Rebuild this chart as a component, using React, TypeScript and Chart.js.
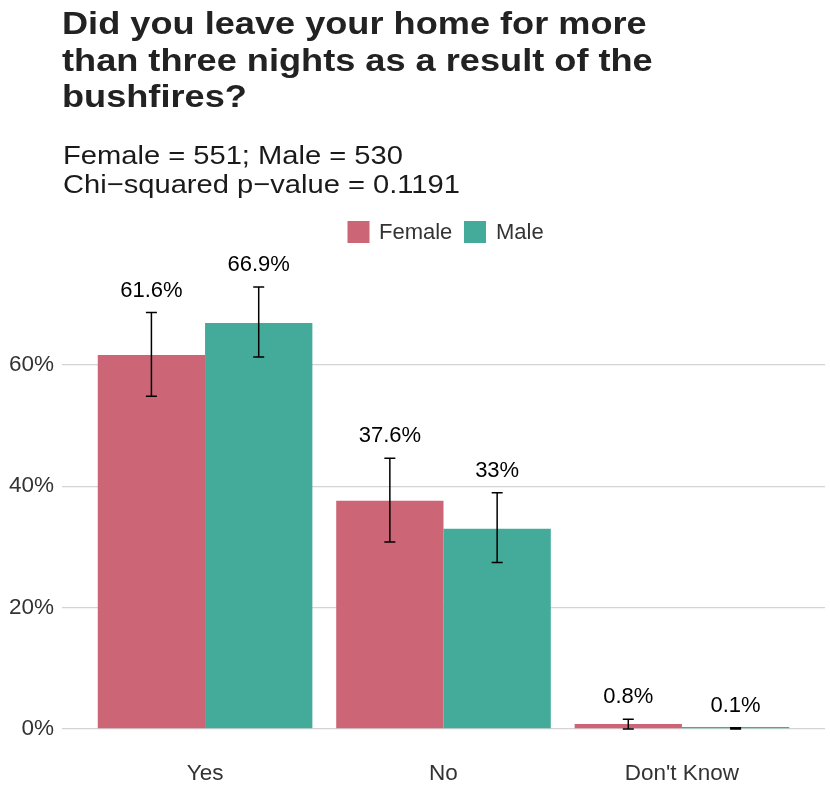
import React, { useEffect, useRef } from 'react';
import { Chart, registerables } from 'chart.js';

Chart.register(...registerables);

const categories = ['Yes', 'No', "Don't Know"];
const seriesNames = ['Female', 'Male'];
const seriesColors = ['#CC6677', '#44AA99'];
const femaleValues = [61.6, 37.6, 0.8];
const maleValues = [66.9, 33.0, 0.1];
const femaleLow = [54.8, 30.8, 0.0];
const femaleHigh = [68.6, 44.6, 1.6];
const maleLow = [61.3, 27.4, 0.0];
const maleHigh = [72.8, 38.9, 0.2];
const yTicks = [0, 20, 40, 60];
const titleLines = [
  'Did you leave your home for more',
  'than three nights as a result of the',
  'bushfires?',
];
const subtitleLines = ['Female = 551; Male = 530', 'Chi\u2212squared p\u2212value = 0.1191'];

const FONT = '"Liberation Sans", Arial, Helvetica, sans-serif';

const fmt = (v: number) => `${+v.toFixed(1)}%`;

const decorPlugin = {
  id: 'decor',
  afterDraw(chart: any) {
    const ctx = chart.ctx as CanvasRenderingContext2D;
    ctx.save();
    // Title
    ctx.fillStyle = '#222222';
    ctx.textAlign = 'left';
    ctx.textBaseline = 'alphabetic';
    ctx.font = `bold 32px ${FONT}`;
    const titleBase = [34, 70.5, 107];
    titleLines.forEach((t, i) => {
      ctx.save();
      ctx.translate(62, titleBase[i]);
      ctx.scale(1.13, 1);
      ctx.fillText(t, 0, 0);
      ctx.restore();
    });
    // Subtitle
    ctx.fillStyle = '#1a1a1a';
    ctx.font = `26px ${FONT}`;
    const subBase = [163.5, 193];
    subtitleLines.forEach((t, i) => {
      ctx.save();
      ctx.translate(63, subBase[i]);
      ctx.scale(1.12, 1);
      ctx.fillText(t, 0, 0);
      ctx.restore();
    });
    // Legend
    ctx.font = `22px ${FONT}`;
    ctx.textBaseline = 'middle';
    const boxX = [347.5, 464];
    const textX = [379, 496];
    seriesNames.forEach((n, i) => {
      ctx.fillStyle = seriesColors[i];
      ctx.fillRect(boxX[i], 221, 22, 22);
      ctx.fillStyle = '#333333';
      ctx.fillText(n, textX[i], 232.5);
    });
    ctx.restore();
  },
  afterDatasetsDraw(chart: any) {
    const ctx = chart.ctx as CanvasRenderingContext2D;
    const yScale = chart.scales.y;
    ctx.save();
    chart.data.datasets.forEach((ds: any, di: number) => {
      const meta = chart.getDatasetMeta(di);
      meta.data.forEach((el: any, i: number) => {
        const x = el.x;
        const yl = yScale.getPixelForValue(ds.errLow[i]);
        const yh = yScale.getPixelForValue(ds.errHigh[i]);
        ctx.strokeStyle = '#000000';
        ctx.lineWidth = 1.5;
        ctx.beginPath();
        ctx.moveTo(x, yl);
        ctx.lineTo(x, yh);
        ctx.moveTo(x - 5.5, yl);
        ctx.lineTo(x + 5.5, yl);
        ctx.moveTo(x - 5.5, yh);
        ctx.lineTo(x + 5.5, yh);
        ctx.stroke();
        ctx.fillStyle = '#000000';
        ctx.font = `22px ${FONT}`;
        ctx.textAlign = 'center';
        ctx.textBaseline = 'middle';
        ctx.fillText(fmt(ds.values[i]), x, yh - 22);
      });
    });
    ctx.restore();
  },
};

export default function App() {
  const ref = useRef<HTMLCanvasElement | null>(null);
  useEffect(() => {
    if (!ref.current) return;
    const mk = (vals: number[], lo: number[], hi: number[], idx: number) => ({
      label: seriesNames[idx],
      data: vals.map((v, i) => ({ x: i + 1, y: v })),
      values: vals,
      errLow: lo,
      errHigh: hi,
      backgroundColor: seriesColors[idx],
      borderWidth: 0,
      minBarLength: 2,
      categoryPercentage: 0.9,
      barPercentage: 1.0,
    });
    const chart = new Chart(ref.current, {
      type: 'bar',
      data: {
        datasets: [
          mk(femaleValues, femaleLow, femaleHigh, 0),
          mk(maleValues, maleLow, maleHigh, 1),
        ] as any,
      },
      options: {
        animation: false,
        responsive: false,
        devicePixelRatio: 1,
        layout: { padding: { top: 265, right: 5, left: 0, bottom: 0 } },
        plugins: {
          legend: { display: false },
          title: { display: false },
          tooltip: { enabled: false },
        },
        scales: {
          x: {
            type: 'linear',
            min: 0.4,
            max: 3.6,
            offset: false,
            grid: { display: false, drawTicks: false },
            border: { display: false },
            afterBuildTicks: (s: any) => {
              s.ticks = categories.map((_, i) => ({ value: i + 1 }));
            },
            afterFit: (s: any) => {
              s.height = 54;
            },
            ticks: {
              autoSkip: false,
              maxRotation: 0,
              padding: 9,
              color: '#333333',
              font: { family: FONT, size: 22.5 },
              callback: (v: any) => categories[Math.round(Number(v)) - 1] ?? '',
            },
          },
          y: {
            type: 'linear',
            min: -3.64,
            max: 76.44,
            grid: { color: '#d4d4d4', lineWidth: 1.2, drawTicks: false },
            border: { display: false },
            afterBuildTicks: (s: any) => {
              s.ticks = yTicks.map((v) => ({ value: v }));
            },
            afterFit: (s: any) => {
              s.width = 62;
            },
            ticks: {
              padding: 8,
              color: '#333333',
              font: { family: FONT, size: 22.5 },
              callback: (v: any) => `${v}%`,
            },
          },
        },
      } as any,
      plugins: [decorPlugin],
    });
    return () => chart.destroy();
  }, []);
  return (
    <div style={{ position: 'fixed', left: 0, top: 0, width: 830, height: 805, background: '#fff' }}>
      <canvas ref={ref} width={830} height={805} style={{ width: '830px', height: '805px' }} />
    </div>
  );
}
